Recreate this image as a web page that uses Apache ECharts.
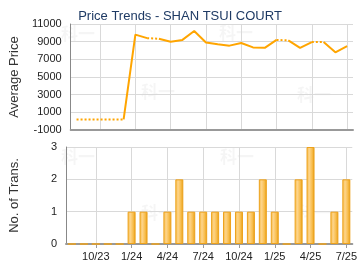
<!DOCTYPE html>
<html>
<head>
<meta charset="utf-8">
<script src="https://cdn.jsdelivr.net/npm/echarts@6/dist/echarts.min.js"></script>
<style>
  html, body { margin: 0; padding: 0; background: #fff; }
  #chart { width: 360px; height: 270px; }
</style>
</head>
<body>
<div id="chart"></div>
<script>
	// 月份
	var months = ['8/23', '9/23', '10/23', '11/23', '12/23', '1/24', '2/24', '3/24', '4/24', '5/24', '6/24', '7/24',
		'8/24', '9/24', '10/24', '11/24', '12/24', '1/25', '2/25', '3/25', '4/25', '5/25', '6/25', '7/25'];
	// 平均价
	var avgPrice = [200, 200, 200, 200, 200, 9800, 9400, 9330, 9000, 9200, 10200, 8900,
		8700, 8550, 8850, 8350, 8300, 9200, 9150, 8300, 8950, 8950, 7800, 8500];
	// 成交宗数
	var transCount = [0, 0, 0, 0, 0, 1, 1, 0, 1, 2, 1, 1,
		1, 1, 1, 1, 2, 1, 0, 2, 3, 0, 1, 2];
	var priceTicks = ['-1000', '1000', '3000', '5000', '7000', '9000', '11000'];
	var watermark = '科一';

	var myChart = echarts.init(document.getElementById('chart'));

	var showEvery3 = function (idx) { return idx % 3 === 2; };
	var lineColor = '#ffa500';
	var gridColor = '#d9d9d9';

	// 竖向网格线 (对齐标签)
	var vLines = [];
	for (var m = 0; m < months.length; m++) {
		if (showEvery3(m)) vLines.push({ xAxis: months[m] });
	}
	var gridLineSeries = function (xi, yi) {
		return {
			type: 'line',
			xAxisIndex: xi,
			yAxisIndex: yi,
			data: [],
			silent: true,
			z: 0,
			markLine: {
				silent: true,
				z: 0,
				symbol: 'none',
				label: { show: false },
				animation: false,
				lineStyle: { color: gridColor, width: 1, type: 'solid' },
				data: vLines
			}
		};
	};

	// 分段: 终点月份无成交则用虚线
	var lineSeries = [];
	var runStart = 0;
	var styleOf = function (i) { return transCount[i + 1] > 0 ? 'solid' : 'dotted'; };
	for (var i = 0; i < months.length - 1; i++) {
		var st = styleOf(i);
		if (i === months.length - 2 || styleOf(i + 1) !== st) {
			var d = [];
			for (var k = 0; k < months.length; k++) {
				d.push(k >= runStart && k <= i + 1 ? avgPrice[k] : '-');
			}
			lineSeries.push({
				type: 'line',
				xAxisIndex: 0,
				yAxisIndex: 0,
				data: d,
				showSymbol: false,
				symbol: 'none',
				silent: true,
				z: st === 'solid' ? 3 : 2,
				lineStyle: {
					color: lineColor,
					width: 2,
					type: st === 'solid' ? 'solid' : [2, 2]
				}
			});
			runStart = i + 1;
		}
	}

	var wm = [[77, 34], [157, 92], [235, 33], [313, 95], [77, 157], [157, 213], [236, 157], [313, 213]];
	var graphics = [];
	for (var w = 0; w < wm.length; w++) {
		graphics.push({
			type: 'text',
			left: wm[w][0] - 16,
			top: wm[w][1] - 9,
			silent: true,
			z: -1,
			style: {
				text: watermark,
				fill: 'rgba(0,0,0,0.04)',
				font: 'bold 17px "Noto Sans CJK SC"'
			}
		});
	}

	var option = {
		animation: false,
		textStyle: { fontFamily: 'Liberation Sans, Arial, sans-serif' },
		title: {
			text: 'Price Trends - SHAN TSUI COURT',
			left: 'center',
			top: 5,
			textStyle: { color: '#1e3a64', fontSize: 13, fontWeight: 'normal', fontFamily: 'Liberation Sans, Arial, sans-serif' }
		},
		graphic: graphics,
		grid: [
			{ left: 65, right: 7, top: 24, height: 106 },
			{ left: 65, right: 7, top: 147, height: 97 }
		],
		xAxis: [
			{
				type: 'category',
				gridIndex: 0,
				data: months,
				boundaryGap: true,
				axisLine: { show: true, onZero: false, lineStyle: { color: '#999', width: 2 } },
				axisTick: { show: false },
				axisLabel: { show: false },
				splitLine: { show: false }
			},
			{
				type: 'category',
				gridIndex: 1,
				data: months,
				boundaryGap: true,
				axisLine: { show: true, onZero: false, lineStyle: { color: '#999', width: 2 } },
				axisTick: { show: true, interval: showEvery3, alignWithLabel: true, length: 4, lineStyle: { color: '#999' } },
				axisLabel: { show: true, interval: showEvery3, color: '#222', fontSize: 11, margin: 7 },
				splitLine: { show: false }
			}
		],
		yAxis: [
			{
				type: 'value',
				gridIndex: 0,
				min: -1000,
				max: 11000,
				interval: 2000,
				name: 'Average Price',
				nameLocation: 'middle',
				nameGap: 45,
				nameTextStyle: { color: '#333', fontSize: 13 },
				axisLine: { show: true, lineStyle: { color: '#888', width: 1 } },
				axisTick: { show: false },
				axisLabel: {
					color: '#222', fontSize: 11, margin: 9,
					formatter: function (v) { return priceTicks[Math.round((v + 1000) / 2000)] || v; }
				},
				splitLine: { show: true, lineStyle: { color: gridColor, width: 1 } }
			},
			{
				type: 'value',
				gridIndex: 1,
				min: 0,
				max: 3,
				interval: 1,
				name: 'No. of Trans.',
				nameLocation: 'middle',
				nameGap: 45,
				nameTextStyle: { color: '#333', fontSize: 13 },
				axisLine: { show: true, lineStyle: { color: '#888', width: 1 } },
				axisTick: { show: false },
				axisLabel: { color: '#222', fontSize: 11, margin: 9 },
				splitLine: { show: true, lineStyle: { color: gridColor, width: 1 } }
			}
		],
		series: [gridLineSeries(0, 0), gridLineSeries(1, 1)].concat(lineSeries).concat([
			{
				type: 'bar',
				xAxisIndex: 1,
				yAxisIndex: 1,
				data: transCount,
				barWidth: 8,
				silent: true,
				z: 2,
				itemStyle: {
					borderColor: '#eda21c',
					borderWidth: 1,
					color: new echarts.graphic.LinearGradient(0, 0, 1, 0, [
						{ offset: 0, color: '#f7bb45' },
						{ offset: 0.35, color: '#fdd48a' },
						{ offset: 0.7, color: '#f8bd4c' },
						{ offset: 1, color: '#e39a0e' }
					])
				}
			}
		])
	};

	myChart.setOption(option);
</script>
</body>
</html>
